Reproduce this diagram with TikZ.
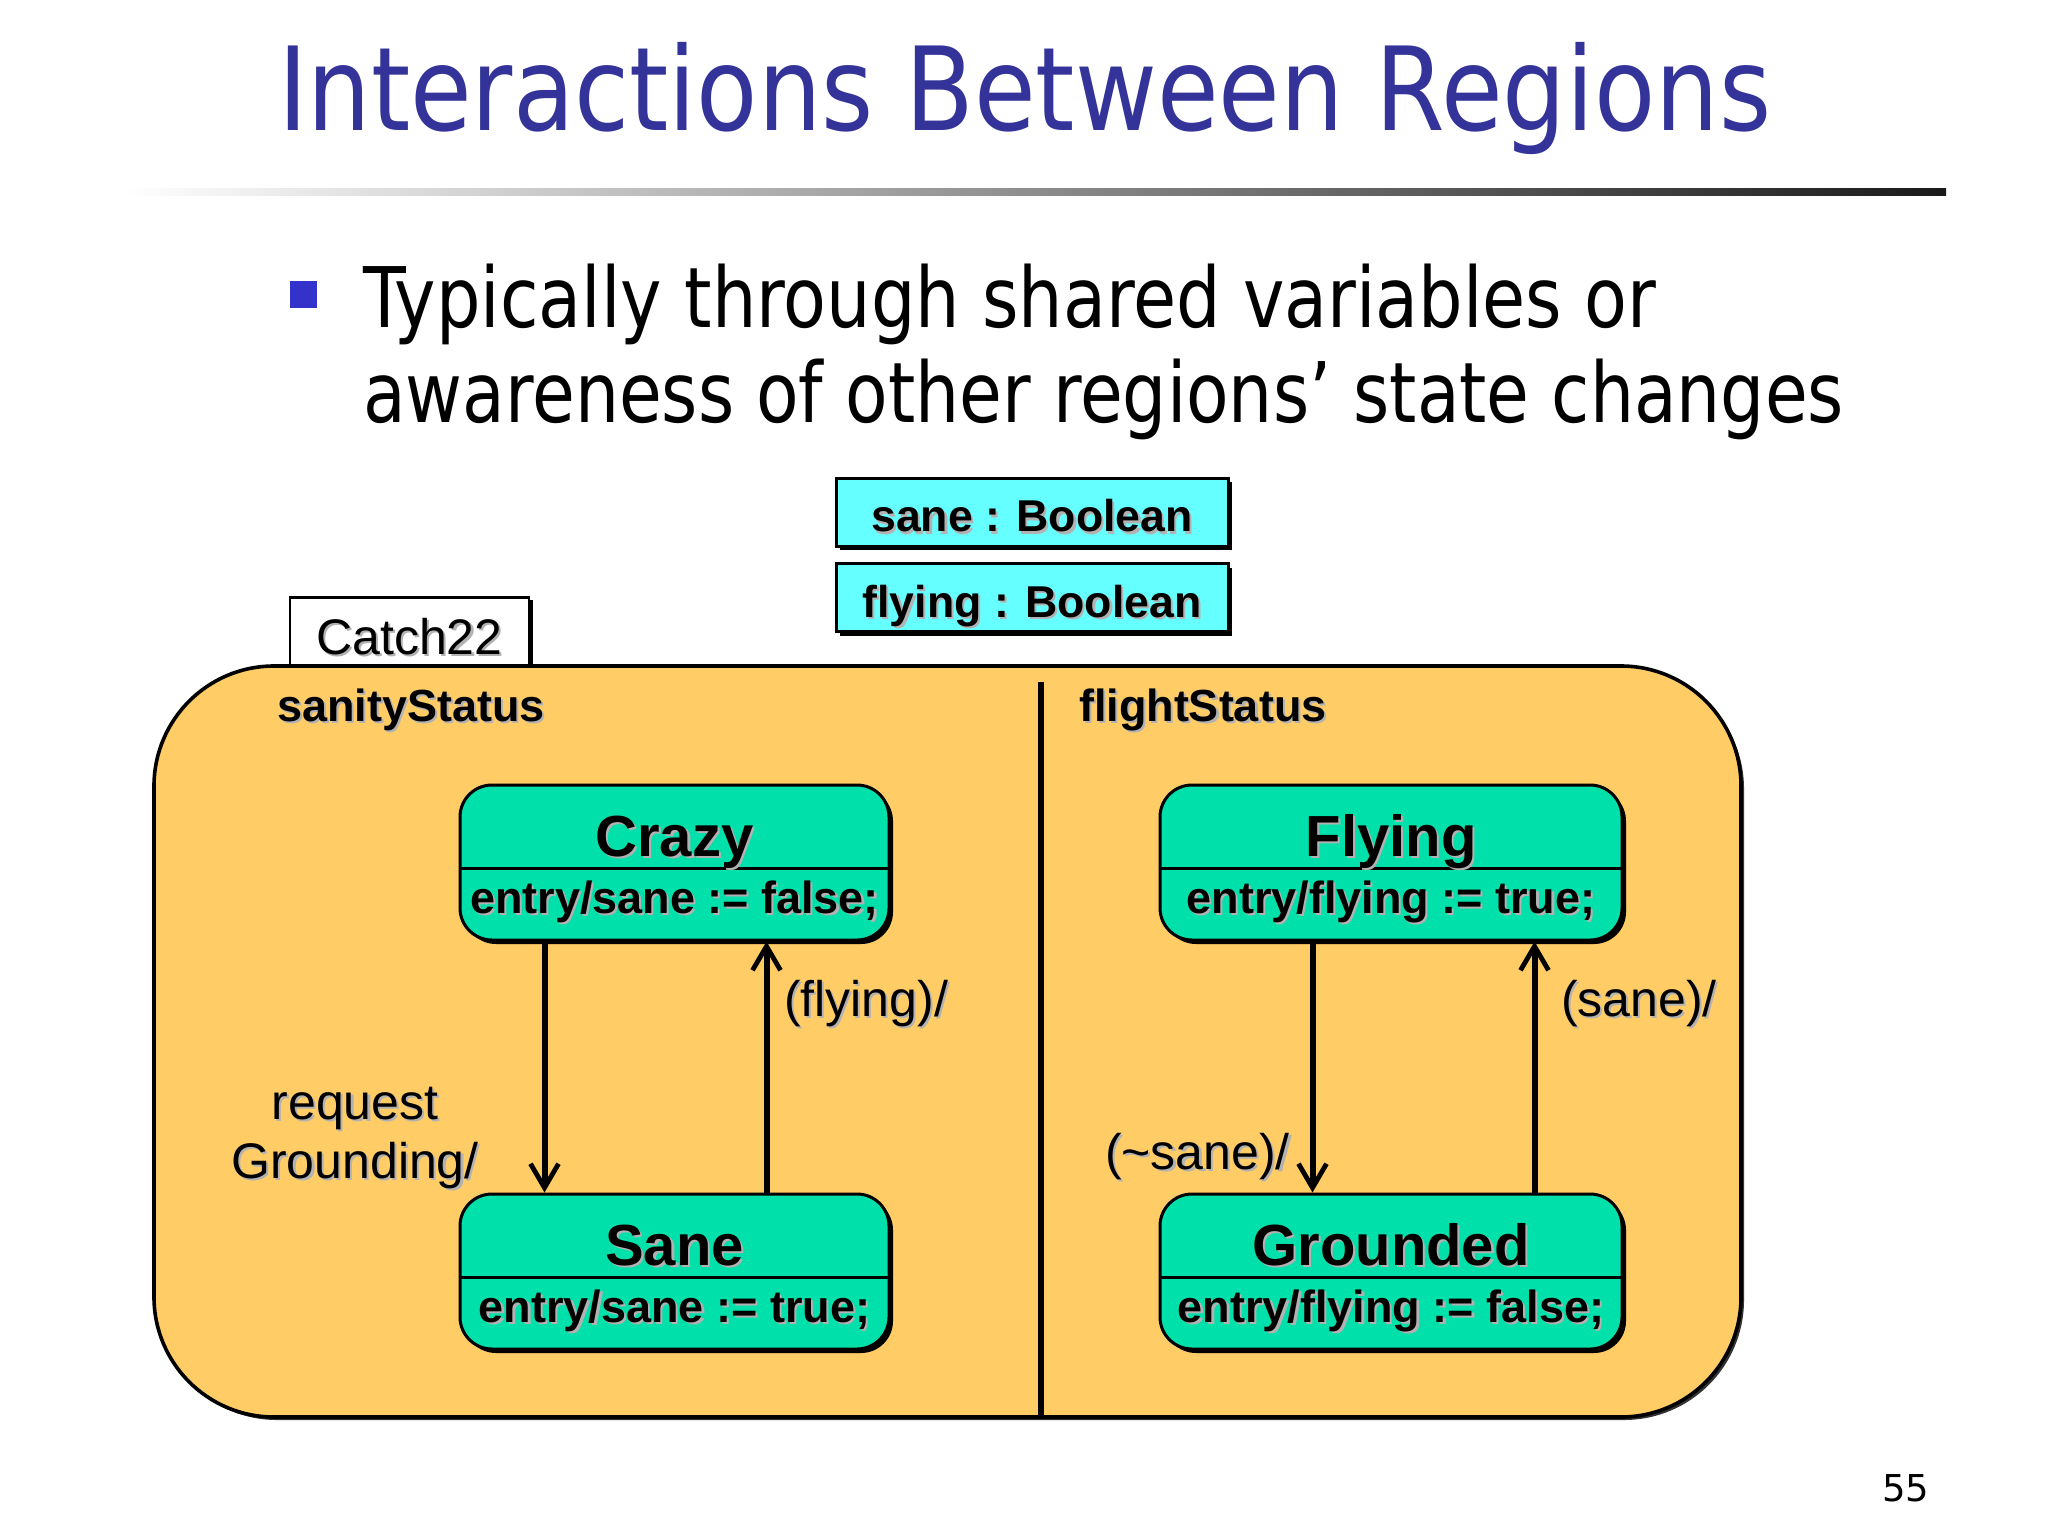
\documentclass[tikz,border=0pt]{standalone}
\usepackage{fontspec}
\setmainfont{Liberation Sans}
\newfontfamily\tah{DejaVu Sans}
\usepackage{graphicx}
\usetikzlibrary{shadows,arrows.meta,calc}
\definecolor{titleblue}{RGB}{51,51,153}
\definecolor{bulletblue}{RGB}{51,51,204}
\definecolor{regionor}{RGB}{255,204,102}
\definecolor{stgreen}{RGB}{0,224,170}
\definecolor{varcyan}{RGB}{102,255,255}
\newcommand\shd[1]{\makebox[0pt][l]{\kern1.1pt\raisebox{-1.1pt}{\color{black!30}#1}}#1}
\tikzset{
  txt/.style={inner sep=0pt, outer sep=0pt},
  shad/.style={drop shadow={shadow xshift=2pt, shadow yshift=-2pt, fill=black, opacity=1}},
  stbox/.style={draw, line width=1.5pt, fill=stgreen, rounded corners=16pt,
    minimum height=77.5pt, inner sep=0pt, shad},
  varbox/.style={draw, line width=1.5pt, fill=varcyan, minimum width=196pt,
    minimum height=34pt, inner sep=0pt, text height=19.8pt, text depth=0pt,
    font=\bfseries\fontsize{22.3}{24}\selectfont, shad},
  stname/.style={txt, anchor=base, font=\bfseries\fontsize{29}{31}\selectfont},
  stentry/.style={txt, anchor=base, font=\bfseries\fontsize{22.5}{24}\selectfont},
  lbl/.style={txt, font=\fontsize{25}{27}\selectfont},
  tr/.style={line width=3pt, -{Straight Barb[length=12pt,width=14pt,line width=2.4pt]}},
}
\begin{document}
\begin{tikzpicture}[x=0.5pt,y=-0.5pt]
\useasboundingbox (0,0) rectangle (2048,1536);
\fill[white] (0,0) rectangle (2048,1536);

% title
\node[txt, anchor=base west, text=titleblue] (title) at (278,131)
  {\resizebox{746.5pt}{\height}{\tah\fontsize{58}{60}\selectfont Interactions Between Regions}};
\shade[left color=white, right color=black!90] (124,188) rectangle (1946,195);

% bullet
\fill[bulletblue] (290,281) rectangle (317,308);
\node[txt, anchor=base west] (b1) at (363,327)
  {\resizebox{646.5pt}{\height}{\tah\fontsize{41.8}{44}\selectfont Typically through shared variables or}};
\node[txt, anchor=base west] (b2) at (363,422)
  {\resizebox{740.5pt}{\height}{\tah\fontsize{41.8}{44}\selectfont awareness of other regions’ state changes}};

% variables
\node[varbox] (vsane) at (1032,512) {\shd{sane : Boolean}};
\node[varbox] (vfly) at (1032,597.5) {\shd{flying : Boolean}};

% Catch22 tab and region
\node[draw, fill=white, line width=1.4pt, minimum width=119.5pt, minimum height=34.5pt,
  inner sep=0pt, text height=22.5pt, text depth=0pt, font=\fontsize{25}{27}\selectfont,
  drop shadow={shadow xshift=2pt, shadow yshift=-1pt, fill=black, opacity=1}]
  (tab) at (409.5,632) {\shd{Catch22}};
\node[draw, fill=regionor, line width=1.8pt, rounded corners=60pt,
  minimum width=793.5pt, minimum height=375.5pt, inner sep=0pt,
  drop shadow={shadow xshift=1.5pt, shadow yshift=-1.5pt, fill=black, opacity=0.8}]
  (region) at (947.5,1041.5) {};
\coordinate (divtop) at (1041,682);
\draw[line width=3.3pt] (divtop) -- (divtop |- region.south);

\node[txt, anchor=base west, font=\bfseries\fontsize{22.5}{24}\selectfont] (ss) at (277,721) {\shd{sanityStatus}};
\node[txt, anchor=base west, font=\bfseries\fontsize{22.5}{24}\selectfont] (fs) at (1079,721) {\shd{flightStatus}};

% states
\node[stbox, minimum width=214.5pt] (crazy) at (674.5,862.5) {};
\node[stbox, minimum width=214.5pt] (sane) at (674.5,1271.5) {};
\node[stbox, minimum width=231pt] (flying) at (1391,862.5) {};
\node[stbox, minimum width=231pt] (grounded) at (1391,1271.5) {};
\foreach \s/\n/\e in {crazy/Crazy/{entry/sane := false;},
                      sane/Sane/{entry/sane := true;},
                      flying/Flying/{entry/flying := true;},
                      grounded/Grounded/{entry/flying := false;}}{
  \draw[line width=1.5pt] ($(\s.north west)+(0,85)$) -- ($(\s.north east)+(0,85)$);
  \node[stname] (\s-name) at ($(\s.north)+(0,73)$) {\shd{\n}};
  \node[stentry] (\s-entry) at ($(\s.north)+(0,130)$) {\shd{\e}};
}

% transitions
\draw[tr] ($(crazy.south west)+(86,0)$) -- ($(sane.north west)+(86,0)$);
\draw[tr] ($(sane.north west)+(308,0)$) -- ($(crazy.south west)+(308,0)$);
\draw[tr] ($(flying.south west)+(154,0)$) -- ($(grounded.north west)+(154,0)$);
\draw[tr] ($(grounded.north west)+(376,0)$) -- ($(flying.south west)+(376,0)$);

% labels
\node[lbl, anchor=base west] (lfly) at (784,1016) {\shd{(flying)/}};
\node[lbl, anchor=base] (lreq1) at (355,1119) {\shd{request}};
\node[lbl, anchor=base] (lreq2) at (355,1178) {\shd{Grounding/}};
\node[lbl, anchor=base west] (lnsane) at (1105,1169) {\shd{(\char`\~sane)/}};
\node[lbl, anchor=base west] (lsane) at (1561,1016) {\shd{(sane)/}};

% page number
\node[txt, anchor=base west, font=\tah\fontsize{18.5}{20}\selectfont] (pg) at (1882,1501) {55};
\end{tikzpicture}
\end{document}
